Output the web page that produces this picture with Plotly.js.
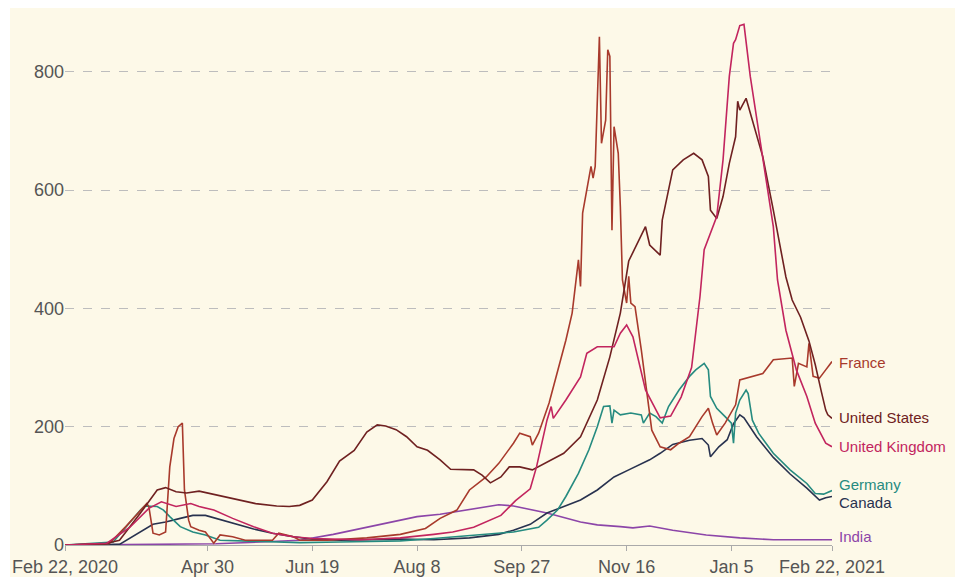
<!DOCTYPE html>
<html>
<head>
<meta charset="utf-8">
<script src="https://cdn.plot.ly/plotly-3.0.1.min.js"></script>
<style>
  html, body { margin: 0; padding: 0; background: #ffffff; }
  #chart { position: absolute; left: 10px; top: 8px; width: 945px; height: 569px; }
</style>
</head>
<body>
<div id="chart"></div>
<script>
// ---- Data ----
const usDates = ['2020-02-22','2020-03-12','2020-03-19','2020-03-29','2020-04-06','2020-04-10','2020-04-15','2020-04-20','2020-04-26','2020-05-04','2020-05-14','2020-05-23','2020-06-02','2020-06-08','2020-06-13','2020-06-19','2020-06-26','2020-07-02','2020-07-09','2020-07-15','2020-07-20','2020-07-24','2020-07-29','2020-08-03','2020-08-08','2020-08-13','2020-08-19','2020-08-24','2020-09-04','2020-09-08','2020-09-12','2020-09-17','2020-09-21','2020-09-26','2020-10-02','2020-10-09','2020-10-17','2020-10-25','2020-11-02','2020-11-08','2020-11-13','2020-11-17','2020-11-25','2020-11-27','2020-12-02','2020-12-03','2020-12-08','2020-12-13','2020-12-18','2020-12-22','2020-12-25','2020-12-26','2020-12-29','2021-01-01','2021-01-04','2021-01-07','2021-01-08','2021-01-09','2021-01-12','2021-01-15','2021-01-20','2021-01-25','2021-01-31','2021-02-03','2021-02-07','2021-02-11','2021-02-14','2021-02-17','2021-02-19','2021-02-20','2021-02-22'];
const usValues = [0,2,8,54,93,97,90,88,91,85,78,70,66,65,67,76,107,142,160,191,203,201,195,183,166,160,144,128,127,118,105,115,132,132,127,140,155,183,245,318,392,480,538,507,490,549,634,651,662,651,623,566,552,589,645,690,750,735,755,718,656,566,453,414,385,345,305,258,228,220,214];

const ukDates = ['2020-02-22','2020-03-13','2020-03-24','2020-04-02','2020-04-08','2020-04-15','2020-04-22','2020-04-26','2020-05-03','2020-05-12','2020-05-22','2020-05-31','2020-06-10','2020-06-19','2020-07-12','2020-07-31','2020-08-16','2020-08-25','2020-09-04','2020-09-17','2020-09-24','2020-10-01','2020-10-04','2020-10-09','2020-10-11','2020-10-12','2020-10-18','2020-10-25','2020-10-28','2020-11-02','2020-11-10','2020-11-13','2020-11-16','2020-11-19','2020-11-25','2020-12-02','2020-12-07','2020-12-12','2020-12-17','2020-12-21','2020-12-23','2020-12-26','2020-12-29','2021-01-01','2021-01-04','2021-01-06','2021-01-07','2021-01-09','2021-01-11','2021-01-14','2021-01-16','2021-01-20','2021-01-25','2021-01-27','2021-01-31','2021-02-05','2021-02-10','2021-02-14','2021-02-19','2021-02-22'];
const ukValues = [0,3,30,62,73,65,70,65,59,45,31,20,14,11,9,12,18,22,30,50,75,95,132,211,234,214,245,284,324,335,335,358,372,352,262,215,218,250,300,420,499,527,555,651,792,848,854,878,880,792,747,651,538,448,363,296,251,206,172,166];

const frDates = ['2020-02-22','2020-03-14','2020-03-22','2020-03-29','2020-04-01','2020-04-02','2020-04-04','2020-04-07','2020-04-10','2020-04-12','2020-04-14','2020-04-16','2020-04-18','2020-04-19','2020-04-21','2020-04-22','2020-04-26','2020-04-29','2020-05-03','2020-05-06','2020-05-12','2020-05-18','2020-05-31','2020-06-03','2020-06-10','2020-06-13','2020-06-26','2020-07-15','2020-07-31','2020-08-12','2020-08-19','2020-08-27','2020-09-02','2020-09-10','2020-09-16','2020-09-23','2020-09-26','2020-10-01','2020-10-02','2020-10-05','2020-10-10','2020-10-18','2020-10-21','2020-10-24','2020-10-25','2020-10-26','2020-10-28','2020-10-30','2020-10-31','2020-11-01','2020-11-03','2020-11-04','2020-11-06','2020-11-07','2020-11-08','2020-11-09','2020-11-10','2020-11-12','2020-11-13','2020-11-14','2020-11-16','2020-11-17','2020-11-18','2020-11-20','2020-11-23','2020-11-26','2020-11-28','2020-12-02','2020-12-07','2020-12-11','2020-12-16','2020-12-22','2020-12-25','2020-12-27','2020-12-29','2021-01-02','2021-01-07','2021-01-09','2021-01-15','2021-01-20','2021-01-25','2021-02-03','2021-02-04','2021-02-06','2021-02-10','2021-02-11','2021-02-13','2021-02-16','2021-02-19','2021-02-22'];
const frValues = [0,2,31,59,70,65,20,17,22,132,180,200,206,93,42,31,25,22,3,17,14,8,8,20,14,8,8,12,18,28,45,59,93,115,138,172,189,183,169,189,240,346,392,482,437,561,600,640,620,640,859,679,718,837,826,532,707,662,572,448,409,454,409,403,330,250,194,166,161,172,183,217,231,206,186,206,237,279,285,290,313,316,268,307,301,341,285,282,296,310];

const deDates = ['2020-02-22','2020-03-16','2020-03-29','2020-03-31','2020-04-06','2020-04-09','2020-04-12','2020-04-17','2020-04-23','2020-04-29','2020-05-06','2020-05-25','2020-06-13','2020-07-02','2020-07-31','2020-08-16','2020-09-10','2020-09-23','2020-10-05','2020-10-09','2020-10-14','2020-10-18','2020-10-24','2020-10-29','2020-11-02','2020-11-05','2020-11-08','2020-11-09','2020-11-10','2020-11-13','2020-11-18','2020-11-23','2020-11-24','2020-11-27','2020-11-30','2020-12-03','2020-12-06','2020-12-11','2020-12-16','2020-12-19','2020-12-23','2020-12-25','2020-12-26','2020-12-29','2021-01-02','2021-01-05','2021-01-06','2021-01-07','2021-01-09','2021-01-12','2021-01-13','2021-01-15','2021-01-18','2021-01-25','2021-02-02','2021-02-10','2021-02-14','2021-02-18','2021-02-22'];
const deValues = [0,5,59,66,65,59,48,31,22,17,8,6,4,5,7,11,18,22,30,42,59,82,121,161,200,234,235,206,228,220,223,220,206,223,217,206,234,262,285,296,307,296,251,231,217,206,172,223,245,262,256,211,189,155,127,104,87,86,92];

const caDates = ['2020-02-22','2020-03-19','2020-04-04','2020-04-10','2020-04-17','2020-04-23','2020-04-29','2020-05-06','2020-05-12','2020-05-22','2020-05-31','2020-06-10','2020-06-19','2020-07-02','2020-07-31','2020-08-16','2020-09-02','2020-09-16','2020-09-23','2020-10-01','2020-10-09','2020-10-17','2020-10-25','2020-11-02','2020-11-10','2020-11-17','2020-11-27','2020-12-02','2020-12-08','2020-12-16','2020-12-22','2020-12-25','2020-12-26','2020-12-30','2021-01-03','2021-01-06','2021-01-09','2021-01-11','2021-01-17','2021-01-25','2021-02-02','2021-02-10','2021-02-16','2021-02-19','2021-02-22'];
const caValues = [0,1,35,39,45,50,50,43,37,27,20,14,10,8,10,9,12,18,25,35,54,65,76,93,115,127,144,155,170,177,180,169,149,166,178,205,220,215,183,148,120,96,76,80,82];

const inDates = ['2020-02-22','2020-05-04','2020-05-25','2020-06-13','2020-06-29','2020-07-15','2020-07-28','2020-08-08','2020-08-19','2020-08-28','2020-09-10','2020-09-16','2020-09-23','2020-10-02','2020-10-09','2020-10-25','2020-11-02','2020-11-13','2020-11-19','2020-11-27','2020-12-08','2020-12-24','2021-01-09','2021-01-25','2021-02-22'];
const inValues = [0,2,5,8,18,30,40,48,52,57,65,68,66,59,54,39,34,31,29,32,25,17,12,9,9];

const seriesNames = ['France','United States','United Kingdom','Germany','Canada','India'];
const seriesColors = ['#a83a2c','#6f2121','#c2255e','#268b80','#28324f','#8c45a8'];
const labelY = [309, 215, 166, 103, 71, 15];

const tickVals = ['2020-02-22','2020-04-30','2020-06-19','2020-08-08','2020-09-27','2020-11-16','2021-01-05','2021-02-22'];
const tickText = ['Feb 22, 2020','Apr 30','Jun 19','Aug 8','Sep 27','Nov 16','Jan 5','Feb 22, 2021'];

// ---- Build traces ----
const seriesX = [frDates, usDates, ukDates, deDates, caDates, inDates];
const seriesY = [frValues, usValues, ukValues, deValues, caValues, inValues];
const drawOrder = [5, 4, 3, 0, 1, 2];
const traces = drawOrder.map(i => ({
  type: 'scatter', mode: 'lines',
  x: seriesX[i], y: seriesY[i], name: seriesNames[i],
  line: { color: seriesColors[i], width: 1.6 },
  hoverinfo: 'x+y+name'
}));

const annotations = seriesNames.map((n, i) => ({
  x: '2021-02-22', y: labelY[i], xref: 'x', yref: 'y',
  text: n, showarrow: false, xanchor: 'left', yanchor: 'middle', xshift: 5,
  font: { family: 'Liberation Sans, Arial, sans-serif', size: 15, color: seriesColors[i] }
}));

const layout = {
  width: 945, height: 569,
  margin: { l: 55, r: 123, t: 14, b: 32 },
  paper_bgcolor: '#fdf9e8', plot_bgcolor: '#fdf9e8',
  showlegend: false,
  font: { family: 'Liberation Sans, Arial, sans-serif', color: '#555555', size: 18 },
  xaxis: {
    type: 'date', range: ['2020-02-22', '2021-02-22'],
    tickmode: 'array', tickvals: tickVals, ticktext: tickText,
    showgrid: false, zeroline: false,
    showline: true, linecolor: '#aaaaaa', linewidth: 1,
    ticks: 'outside', ticklen: 5, tickcolor: '#aaaaaa',
    tickfont: { size: 18, color: '#555555' }
  },
  yaxis: {
    range: [0, 884], tickvals: [0, 200, 400, 600, 800],
    showgrid: true, gridcolor: '#bdbdbd', griddash: 'dash', gridwidth: 1,
    zeroline: false, showline: false, ticks: '',
    tickfont: { size: 18, color: '#555555' }
  },
  annotations: annotations
};

Plotly.newPlot('chart', traces, layout, { displayModeBar: false, staticPlot: true });
</script>
</body>
</html>
